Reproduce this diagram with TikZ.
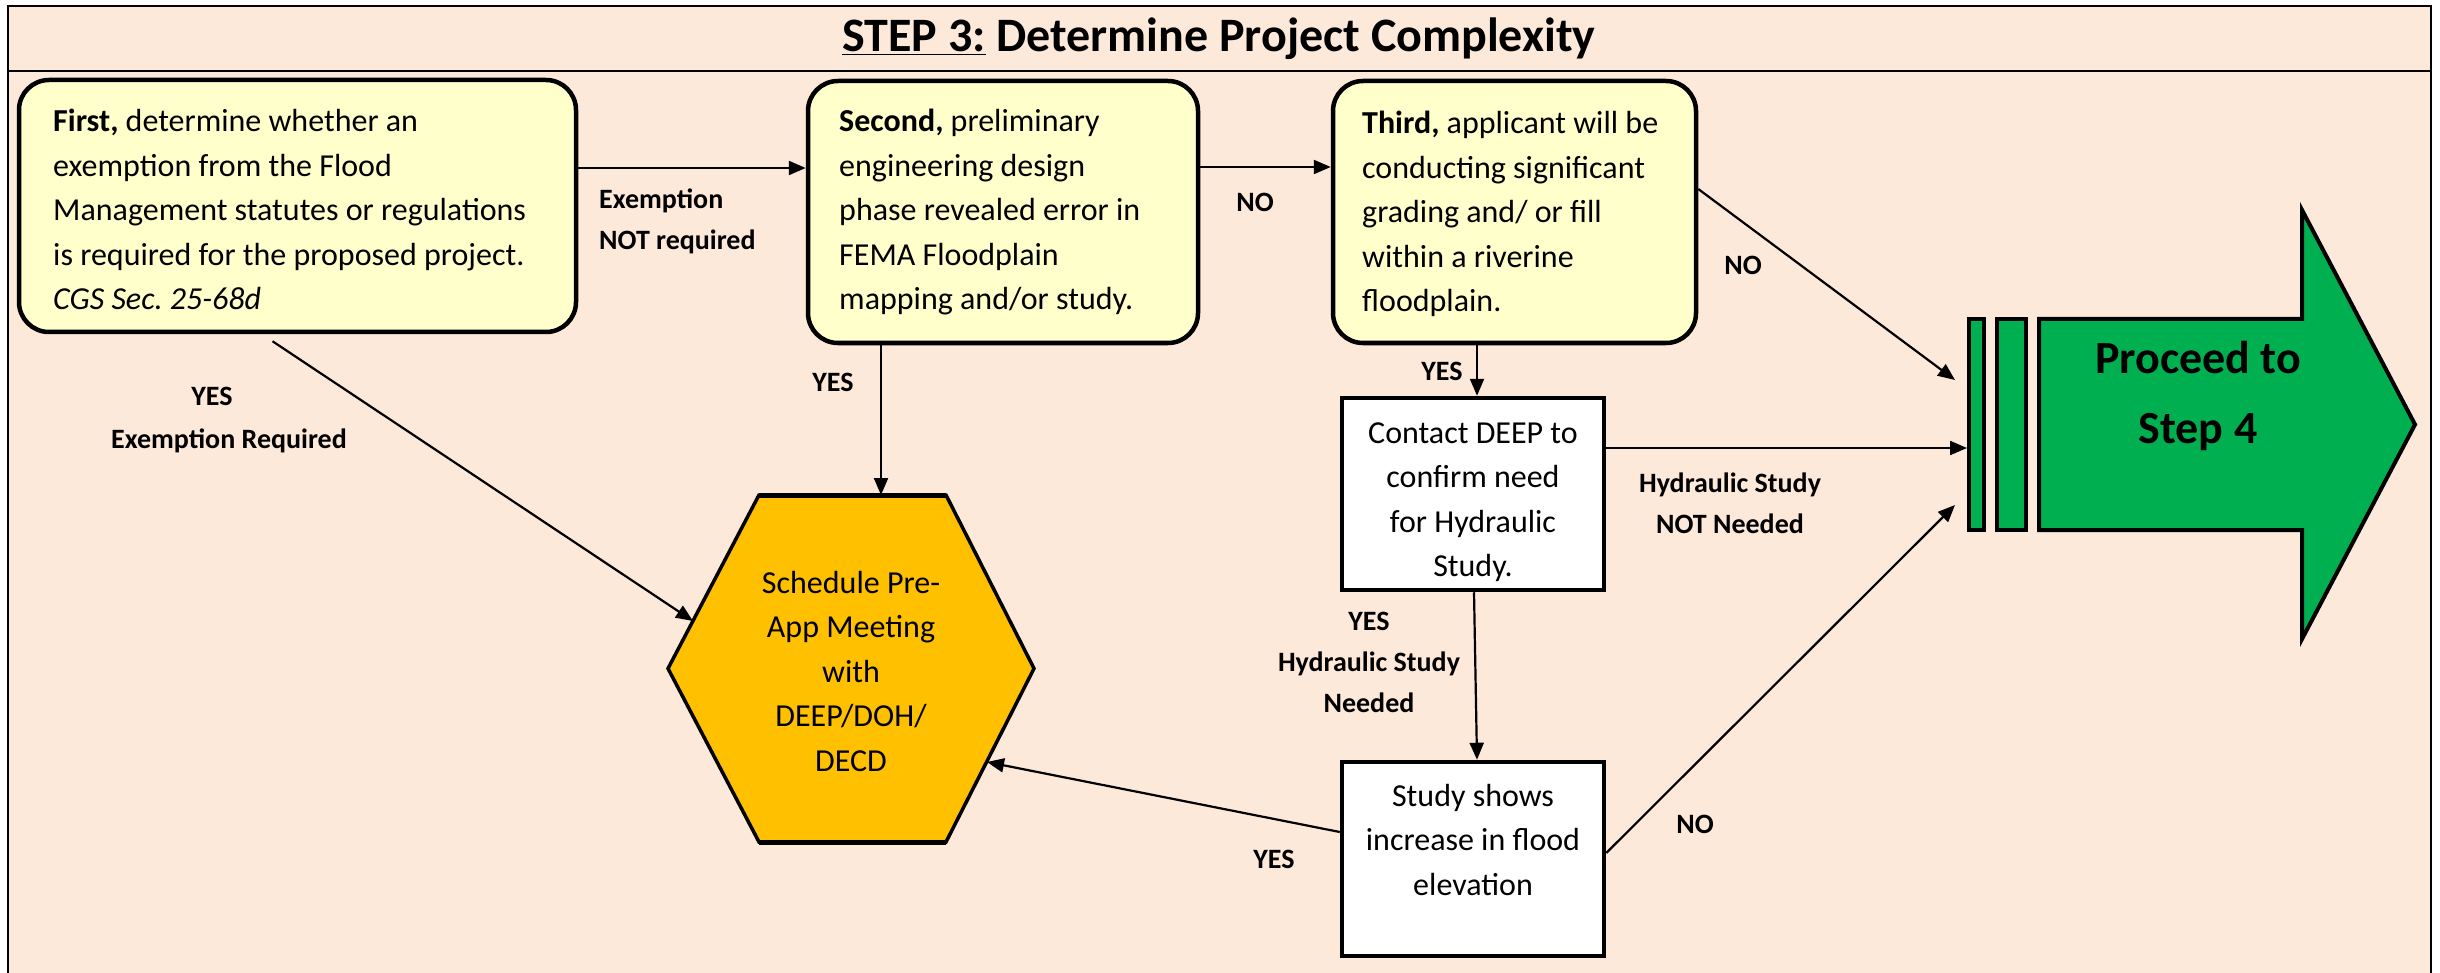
\documentclass[tikz,border=0pt]{standalone}
\usepackage{fontspec}
\setmainfont{Carlito}
\usetikzlibrary{arrows.meta}
\definecolor{peach}{HTML}{FDE9D9}
\definecolor{lyellow}{HTML}{FFFFCC}
\definecolor{hexorange}{HTML}{FFC000}
\definecolor{sgreen}{HTML}{00B050}
\frenchspacing
\begin{document}
\begin{tikzpicture}[x=1pt,y=-1pt,
  ybox/.style={draw=black, line width=4.5pt, fill=lyellow, rounded corners=30pt, inner sep=0pt},
  wbox/.style={draw=black, line width=4.5pt, fill=white, inner sep=0pt},
  arr/.style={draw=black, line width=2.2pt, -{Triangle[length=17pt,width=14pt]}},
  lbl/.style={font=\fontsize{28}{41}\selectfont\bfseries, inner sep=0pt, align=center},
  btxt/.style={inner sep=0pt, anchor=base west},
  ctxt/.style={inner sep=0pt, align=center, font=\fontsize{32}{44.5}\selectfont},
  gbar/.style={draw=black, line width=4pt, fill=sgreen, inner sep=0pt, minimum height=211pt}
]
\useasboundingbox (0,0) rectangle (2440,973);
\fill[white] (0,0) rectangle (2440,973);
\draw[fill=peach, line width=2.5pt] (8,6) rectangle (2431,1000);
\draw[line width=2.5pt] (8,71) -- (2431,71);
\node[inner sep=0pt, anchor=base] (title) at (1219,52) {\fontsize{48}{58}\selectfont\bfseries \underline{STEP 3:} Determine Project Complexity};

% boxes
\node[ybox, minimum width=557pt, minimum height=252pt] (b1) at (297.5,206) {};
\node[ybox, minimum width=390pt, minimum height=262pt] (b2) at (1003,212) {};
\node[ybox, minimum width=363pt, minimum height=262pt] (b3) at (1514.5,212) {};
\node[wbox, minimum width=262pt, minimum height=192pt] (c1) at (1473,494) {};
\node[wbox, minimum width=262pt, minimum height=194pt] (s1) at (1473,859) {};

\node[btxt] (t1) at (53,132) {\parbox[t]{540pt}{\fontsize{32}{44.5}\selectfont\raggedright \textbf{First,} determine whether an\\ exemption from the Flood\\ Management statutes or regulations\\ is required for the proposed project.\\ \textit{CGS Sec. 25-68d}}};
\node[btxt] (t2) at (839,132) {\parbox[t]{360pt}{\fontsize{32}{44.5}\selectfont\raggedright \textbf{Second,} preliminary\\ engineering design\\ phase revealed error in\\ FEMA Floodplain\\ mapping and/or study.}};
\node[btxt] (t3) at (1362,134) {\parbox[t]{330pt}{\fontsize{32}{44.5}\selectfont\raggedright \textbf{Third,} applicant will be\\ conducting significant\\ grading and/ or fill\\ within a riverine\\ floodplain.}};
\node[ctxt] (t4) at (1473,502) {Contact DEEP to\\confirm need\\for Hydraulic\\Study.};
\node[ctxt] (t5) at (1473,840) {Study shows\\increase in flood\\elevation};

% hexagon
\coordinate (hA) at (759,495);
\coordinate (hB) at (946,495);
\coordinate (hC) at (1034,668.5);
\coordinate (hD) at (946,842);
\coordinate (hE) at (759,842);
\coordinate (hF) at (668,668.5);
\draw[fill=hexorange, line width=3.5pt, line join=miter] (hA) -- (hB) -- (hC) -- (hD) -- (hE) -- (hF) -- cycle;
\draw[line width=5pt] (hA) -- (hB) (hD) -- (hE);
\node[ctxt] (hex) at (851,671) {Schedule Pre-\\App Meeting\\with\\DEEP/DOH/\\DECD};
\coordinate (h1) at (693,621);
\coordinate (h2) at (881,495);
\coordinate (h3) at (987,762);

% green arrow
\node[gbar, minimum width=15pt] (bar1) at (1976.5,424.5) {};
\node[gbar, minimum width=29pt] (bar2) at (2011.5,424.5) {};
\draw[fill=sgreen, line width=4pt, line join=miter] (2039,319) -- (2302,319) -- (2302,210) -- (2415,424.5) -- (2302,639) -- (2302,530) -- (2039,530) -- cycle;
\node[font=\fontsize{46}{70}\selectfont\bfseries, align=center, inner sep=0pt] (go) at (2198,396) {Proceed to\\Step 4};
\coordinate (in1) at (1955,380);
\coordinate (in3) at (1955,505);

% connectors
\draw[arr] ([yshift=38pt]b1.east) -- ([yshift=38pt]b1.east -| b2.west);
\draw[arr] ([yshift=45pt]b2.east) -- ([yshift=45pt]b2.east -| b3.west);
\draw[arr] ([yshift=23pt]b3.east) -- (in1);
\draw[arr] ([yshift=46pt]c1.east) -- ([yshift=46pt]c1.east -| bar1.west);
\draw[arr] ([yshift=6pt]s1.east) -- (in3);
\draw[arr] ([shift={(-25pt,-7pt)}]b1.south) -- (h1);
\draw[arr] ([xshift=-122pt]b2.south) -- (h2);
\draw[arr] ([xshift=-37.5pt]b3.south) -- ([xshift=-37.5pt]b3.south |- c1.north);
\draw[arr] ([xshift=1pt]c1.south) -- ([xshift=4pt]s1.north);
\draw[arr] ([yshift=27pt]s1.west) -- (h3);

% labels
\node[lbl, align=left, anchor=west] (l1) at (599,221) {Exemption\\NOT required};
\node[lbl] (l2) at (1255,202) {NO};
\node[lbl] (l3) at (1743,265) {NO};
\node[lbl] (l4) at (212,396) {YES};
\node[lbl] (l5) at (229,441) {Exemption Required};
\node[lbl] (l6) at (833,382) {YES};
\node[lbl] (l7) at (1442,371) {YES};
\node[lbl] (l8) at (1730,503) {Hydraulic Study\\NOT Needed};
\node[lbl] (l9) at (1369,662) {YES\\Hydraulic Study\\Needed};
\node[lbl] (l10) at (1274,859) {YES};
\node[lbl] (l11) at (1695,824) {NO};
\end{tikzpicture}
\end{document}
